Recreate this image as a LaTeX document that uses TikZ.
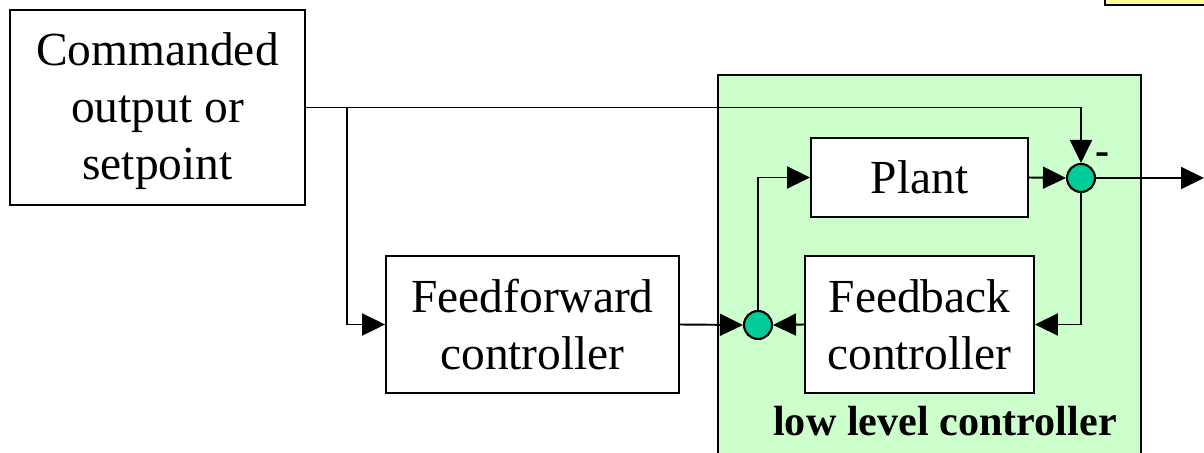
\documentclass[tikz,border=0pt]{standalone}
\usepackage{fontspec}
\setmainfont{Liberation Serif}
\usetikzlibrary{arrows.meta,positioning,calc}
\definecolor{lowgreen}{HTML}{CCFFCC}
\definecolor{sumteal}{HTML}{00CC99}
\definecolor{noteyellow}{HTML}{FFFF99}
\tikzset{
  block/.style = {rectangle, draw, line width=1.1pt, fill=white, align=center,
    font=\fontsize{27}{32.3}\selectfont, inner sep=0pt},
  sumnode/.style = {circle, draw, line width=1.2pt, fill=sumteal, minimum size=0.56cm, inner sep=0pt},
  arrow/.style = {line width=1.1pt, -{Triangle[length=0.46cm, width=0.44cm]}},
  wire/.style = {line width=1.1pt}
}

\begin{document}
\begin{tikzpicture}[x=0.02cm, y=-0.02cm]
\useasboundingbox (0,0) rectangle (1204,453);

% note box cut by the top edge
\draw[line width=1.5pt, fill=noteyellow] (1105,-20) rectangle (1220,5);

% low level controller area
\draw[wire, fill=lowgreen] (718,75) rectangle (1141,480);
\node[font=\bfseries\fontsize{24}{28}\selectfont] (lowlabel) at (945,421) {low level controller};

\node[block, minimum width=5.9cm, minimum height=3.9cm] (cmd) at (157.5,107.5) {\strut Commanded\\ output or\\ setpoint};
\node[block, minimum width=5.86cm, minimum height=2.74cm] (ff) at (532.5,324.5) {Feedforward\\ controller};
\node[block, minimum width=4.34cm, minimum height=1.58cm] (plant) at (919.5,177.5) {Plant};
\node[block, minimum width=4.58cm, minimum height=2.74cm] (fb) at (919.5,324.5) {Feedback\\ controller};

\node[sumnode] (sumA) at (758,325) {};
\node[sumnode] (sumB) at (1081,178) {};
\node[font=\bfseries\fontsize{24}{24}\selectfont, anchor=south west, inner sep=1pt] (minus) at ($(sumB.north east)+(2,-1)$) {-};

\coordinate (split) at ($(cmd.east)+(41,0)$);
\coordinate (out) at (1204,178);

\draw[arrow] (cmd.east) -| (sumB.north);
\draw[arrow] (split) |- (ff.west);
\draw[arrow] (ff.east) -- (sumA.west);
\draw[arrow] (fb.west) -- (sumA.east);
\draw[arrow] (sumA.north) |- (plant.west);
\draw[arrow] (plant.east) -- (sumB.west);
\draw[arrow] (sumB.east) -- (out);
\draw[arrow] (sumB.south) |- (fb.east);

\end{tikzpicture}
\end{document}
